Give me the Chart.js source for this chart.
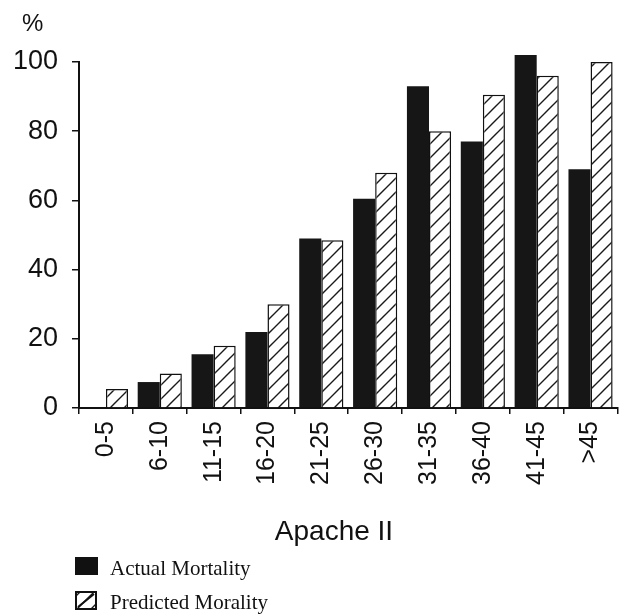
<!DOCTYPE html>
<html>
<head>
<meta charset="utf-8">
<script src="https://cdn.jsdelivr.net/npm/chart.js@4/dist/chart.umd.min.js"></script>
<style>
  html, body { margin: 0; padding: 0; background: #fff; }
  #wrap { width: 628px; height: 616px; position: relative; }
</style>
</head>
<body>
<div id="wrap"><canvas id="mortalityChart" width="628" height="616"></canvas></div>
<script>
// Apache II score bands
var categories = ['0-5', '6-10', '11-15', '16-20', '21-25', '26-30', '31-35', '36-40', '41-45', '>45'];
// mortality in %
var actualMortality = [0, 7.5, 15.5, 22, 49, 60.5, 93, 77, 102, 69];
var predictedMortality = [5.5, 10, 18, 30, 48.5, 68, 80, 90.5, 96, 100];
var yTicks = [0, 20, 40, 60, 80, 100];

var sans = "'Liberation Sans', Arial, sans-serif";
var serif = "'Liberation Serif', 'Times New Roman', serif";

function makeHatch() {
    var s = 14;
    var c = document.createElement('canvas');
    c.width = s; c.height = s;
    var g = c.getContext('2d');
    g.fillStyle = '#fff';
    g.fillRect(0, 0, s, s);
    g.strokeStyle = '#1a1a1a';
    g.lineWidth = 1.4;
    g.beginPath();
    g.moveTo(0, s); g.lineTo(s, 0);
    g.moveTo(-4, 4); g.lineTo(4, -4);
    g.moveTo(s - 4, s + 4); g.lineTo(s + 4, s - 4);
    g.stroke();
    return g.createPattern(c, 'repeat');
}
var hatch = makeHatch();

// extra text: % label, axis title, legend
var extras = {
    id: 'extras',
    afterDraw: function (chart) {
        var ctx = chart.ctx;
        ctx.save();
        ctx.fillStyle = '#111';
        ctx.textBaseline = 'alphabetic';
        ctx.font = '24px ' + sans;
        ctx.textAlign = 'left';
        ctx.fillText('%', 22, 31);
        ctx.font = '28px ' + sans;
        ctx.textAlign = 'center';
        ctx.fillText('Apache II', 334, 540);

        // legend
        ctx.textAlign = 'left';
        ctx.font = '21px ' + serif;
        ctx.fillStyle = '#111';
        ctx.fillRect(75, 557, 23, 18);
        ctx.fillText('Actual Mortality', 110, 575);
        ctx.fillStyle = hatch;
        ctx.fillRect(76, 592, 20, 17);
        ctx.strokeStyle = '#111';
        ctx.lineWidth = 2;
        ctx.strokeRect(76, 592, 20, 17);
        ctx.beginPath();
        ctx.moveTo(78, 607); ctx.lineTo(94, 594);
        ctx.stroke();
        ctx.fillStyle = '#111';
        ctx.fillText('Predicted Morality', 110, 609);
        ctx.restore();
    }
};

var ctx = document.getElementById('mortalityChart').getContext('2d');
window.mortalityChart = new Chart(ctx, {
    type: 'bar',
    data: {
        labels: categories,
        datasets: [{
            label: 'Actual Mortality',
            data: actualMortality,
            backgroundColor: '#161616',
            borderWidth: 0,
            clip: false
        },
        {
            label: 'Predicted Morality',
            data: predictedMortality,
            backgroundColor: hatch,
            borderColor: '#111',
            borderWidth: 1.5,
            clip: false
        }]
    },
    options: {
        responsive: false,
        animation: false,
        layout: { padding: { top: 62, right: 9, left: 0, bottom: 0 } },
        plugins: {
            legend: { display: false },
            tooltip: { enabled: false }
        },
        datasets: {
            bar: { categoryPercentage: 0.82, barPercentage: 1.0 }
        },
        scales: {
            x: {
                afterFit: function (scale) { scale.height = 208; },
                grid: { drawOnChartArea: false, color: '#111', tickLength: 6, lineWidth: 1.5 },
                border: { color: '#111', width: 2 },
                ticks: {
                    color: '#111',
                    font: { family: sans, size: 25 },
                    minRotation: 90,
                    maxRotation: 90,
                    autoSkip: false,
                    padding: 7
                }
            },
            y: {
                min: 0,
                max: 100,
                afterFit: function (scale) { scale.width = 79; },
                grid: { drawOnChartArea: false, color: '#111', tickLength: 7, lineWidth: 1.5 },
                border: { color: '#111', width: 2 },
                ticks: {
                    stepSize: 10,
                    color: '#111',
                    font: { family: sans, size: 27 },
                    padding: 14,
                    callback: function (v) { return yTicks.indexOf(v) >= 0 ? v : ''; }
                }
            }
        }
    },
    plugins: [extras]
});
</script>
</body>
</html>
